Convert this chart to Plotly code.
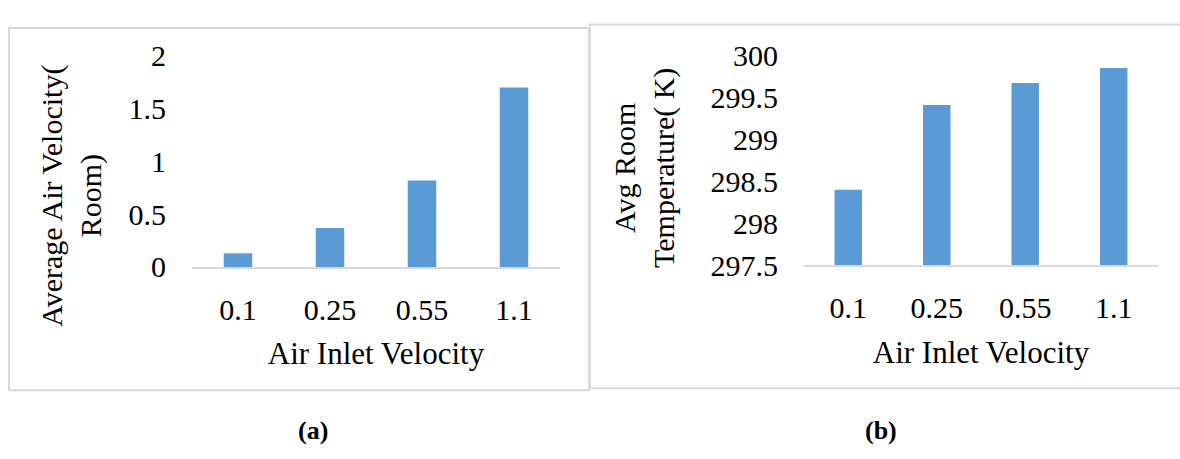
import plotly.graph_objects as go

# Air inlet velocity categories shared by both panels
inlet_velocity = ["0.1", "0.25", "0.55", "1.1"]

# (a) average air velocity in the room
avg_air_velocity = [0.13, 0.37, 0.82, 1.70]
vel_ticks = [0, 0.5, 1, 1.5, 2]
vel_tick_text = ["0", "0.5", "1", "1.5", "2"]

# (b) average room temperature (K)
avg_room_temp = [298.40, 299.41, 299.67, 299.85]
temp_ticks = [297.5, 298, 298.5, 299, 299.5, 300]
temp_tick_text = ["297.5", "298", "298.5", "299", "299.5", "300"]

W, H = 1180, 459
FONT = "Liberation Serif"
FS = 30
BAR_COLOR = "#5B9BD5"
RULE = "#D9D9D9"


def px_x(x):
    return x / W


def px_y(y):
    return 1 - y / H


fig = go.Figure()

fig.add_trace(go.Bar(x=inlet_velocity, y=avg_air_velocity, marker_color=BAR_COLOR,
                     marker_line_width=0, xaxis="x", yaxis="y"))
fig.add_trace(go.Bar(x=inlet_velocity, y=avg_room_temp, marker_color=BAR_COLOR,
                     marker_line_width=0, xaxis="x2", yaxis="y2"))

axis_font = dict(family=FONT, size=FS, color="#000000")
title_font = dict(family=FONT, size=31, color="#000000")

common_x = dict(type="category", showgrid=False, zeroline=False, showline=True,
                linecolor=RULE, linewidth=1.5, ticks="", tickfont=axis_font,
                ticklabelstandoff=15,
                title=dict(text="Air Inlet Velocity", font=title_font, standoff=18))
common_y = dict(showgrid=False, zeroline=False, showline=False, ticks="",
                tickfont=axis_font, ticklabelstandoff=25)

fig.update_layout(
    width=W, height=H,
    margin=dict(l=0, r=0, t=0, b=0),
    paper_bgcolor="white", plot_bgcolor="white",
    showlegend=False, bargap=0.69,
    font=dict(family=FONT, color="#000000"),
    xaxis=dict(domain=[px_x(192), px_x(560)], anchor="y", **common_x),
    yaxis=dict(domain=[px_y(270), px_y(42)], anchor="x", range=[0, 2],
               tickvals=vel_ticks, ticktext=vel_tick_text, **common_y),
    xaxis2=dict(domain=[px_x(804), px_x(1158)], anchor="y2", **common_x),
    yaxis2=dict(domain=[px_y(268), px_y(41.5)], anchor="x2", range=[297.5, 300],
                tickvals=temp_ticks, ticktext=temp_tick_text, **common_y),
)

# Panel frames
fig.add_shape(type="rect", xref="paper", yref="paper",
              x0=px_x(9), x1=px_x(589), y0=px_y(403), y1=px_y(12),
              line=dict(color=RULE, width=2), fillcolor="rgba(0,0,0,0)", layer="below")
fig.add_shape(type="rect", xref="paper", yref="paper",
              x0=px_x(590), x1=px_x(1182), y0=px_y(401), y1=px_y(8),
              line=dict(color=RULE, width=2), fillcolor="rgba(0,0,0,0)", layer="below")

# Vertical axis titles
fig.add_annotation(xref="paper", yref="paper", x=px_x(72), y=px_y(193),
                   text="Average Air Velocity(<br>Room)", textangle=-90,
                   showarrow=False, font=axis_font, xanchor="center", yanchor="middle")
fig.add_annotation(xref="paper", yref="paper", x=px_x(645), y=px_y(163),
                   text="Avg Room<br>Temperature( K)", textangle=-90,
                   showarrow=False, font=axis_font, xanchor="center", yanchor="middle")

# Panel captions
label_font = dict(family=FONT, size=26, color="#000000")
fig.add_annotation(xref="paper", yref="paper", x=px_x(313), y=px_y(447),
                   text="<b>(a)</b>", showarrow=False, font=label_font,
                   xanchor="center", yanchor="middle")
fig.add_annotation(xref="paper", yref="paper", x=px_x(881), y=px_y(447),
                   text="<b>(b)</b>", showarrow=False, font=label_font,
                   xanchor="center", yanchor="middle")

fig.write_html("out.html")
